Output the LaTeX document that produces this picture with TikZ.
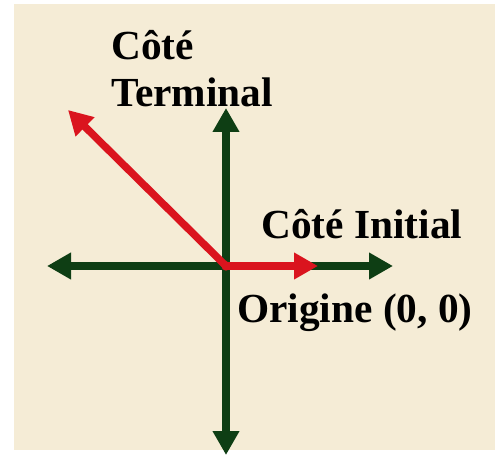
\documentclass[tikz,border=0pt]{standalone}
\usepackage{fontspec}
\setmainfont{Liberation Serif}
\usetikzlibrary{arrows.meta}
\definecolor{bgcream}{RGB}{245,236,214}
\definecolor{axisgreen}{RGB}{14,62,20}
\definecolor{sidered}{RGB}{218,20,30}
\tikzset{
  axisline/.style={draw=axisgreen, line width=5.3pt, {Triangle[length=18pt,width=19pt]}-{Triangle[length=18pt,width=19pt]}},
  sideline/.style={draw=sidered, line width=5.6pt, -{Triangle[length=18pt,width=19pt]}},
  lbl/.style={inner sep=0pt, anchor=base west, font=\fontsize{31}{36}\selectfont\bfseries, text=black}
}
\begin{document}
\begin{tikzpicture}[x=0.75pt,y=-0.75pt]
\useasboundingbox (0,0) rectangle (498,459);
\fill[white] (0,0) rectangle (498,459);
\fill[bgcream] (14,4) rectangle (495,450);
\coordinate (O) at (226,266);
\coordinate (W) at (47,266);
\coordinate (E) at (393,266);
\coordinate (N) at (226,108);
\coordinate (S) at (226,455);
\coordinate (T) at (68,110);
\coordinate (I) at (318,266);
\draw[axisline] (W) -- (E);
\draw[axisline] (N) -- (S);
\draw[sideline] (O) -- (T);
\draw[sideline] (O) -- (I);
\fill[sidered] (O) circle (3.5pt);
\node[lbl] (cote) at (111,60) {Côté};
\node[lbl] (terminal) at (111,107) {Terminal};
\node[lbl] (initial) at (261,238) {Côté Initial};
\node[lbl] (origine) at (237,322) {Origine (0, 0)};
\end{tikzpicture}
\end{document}
